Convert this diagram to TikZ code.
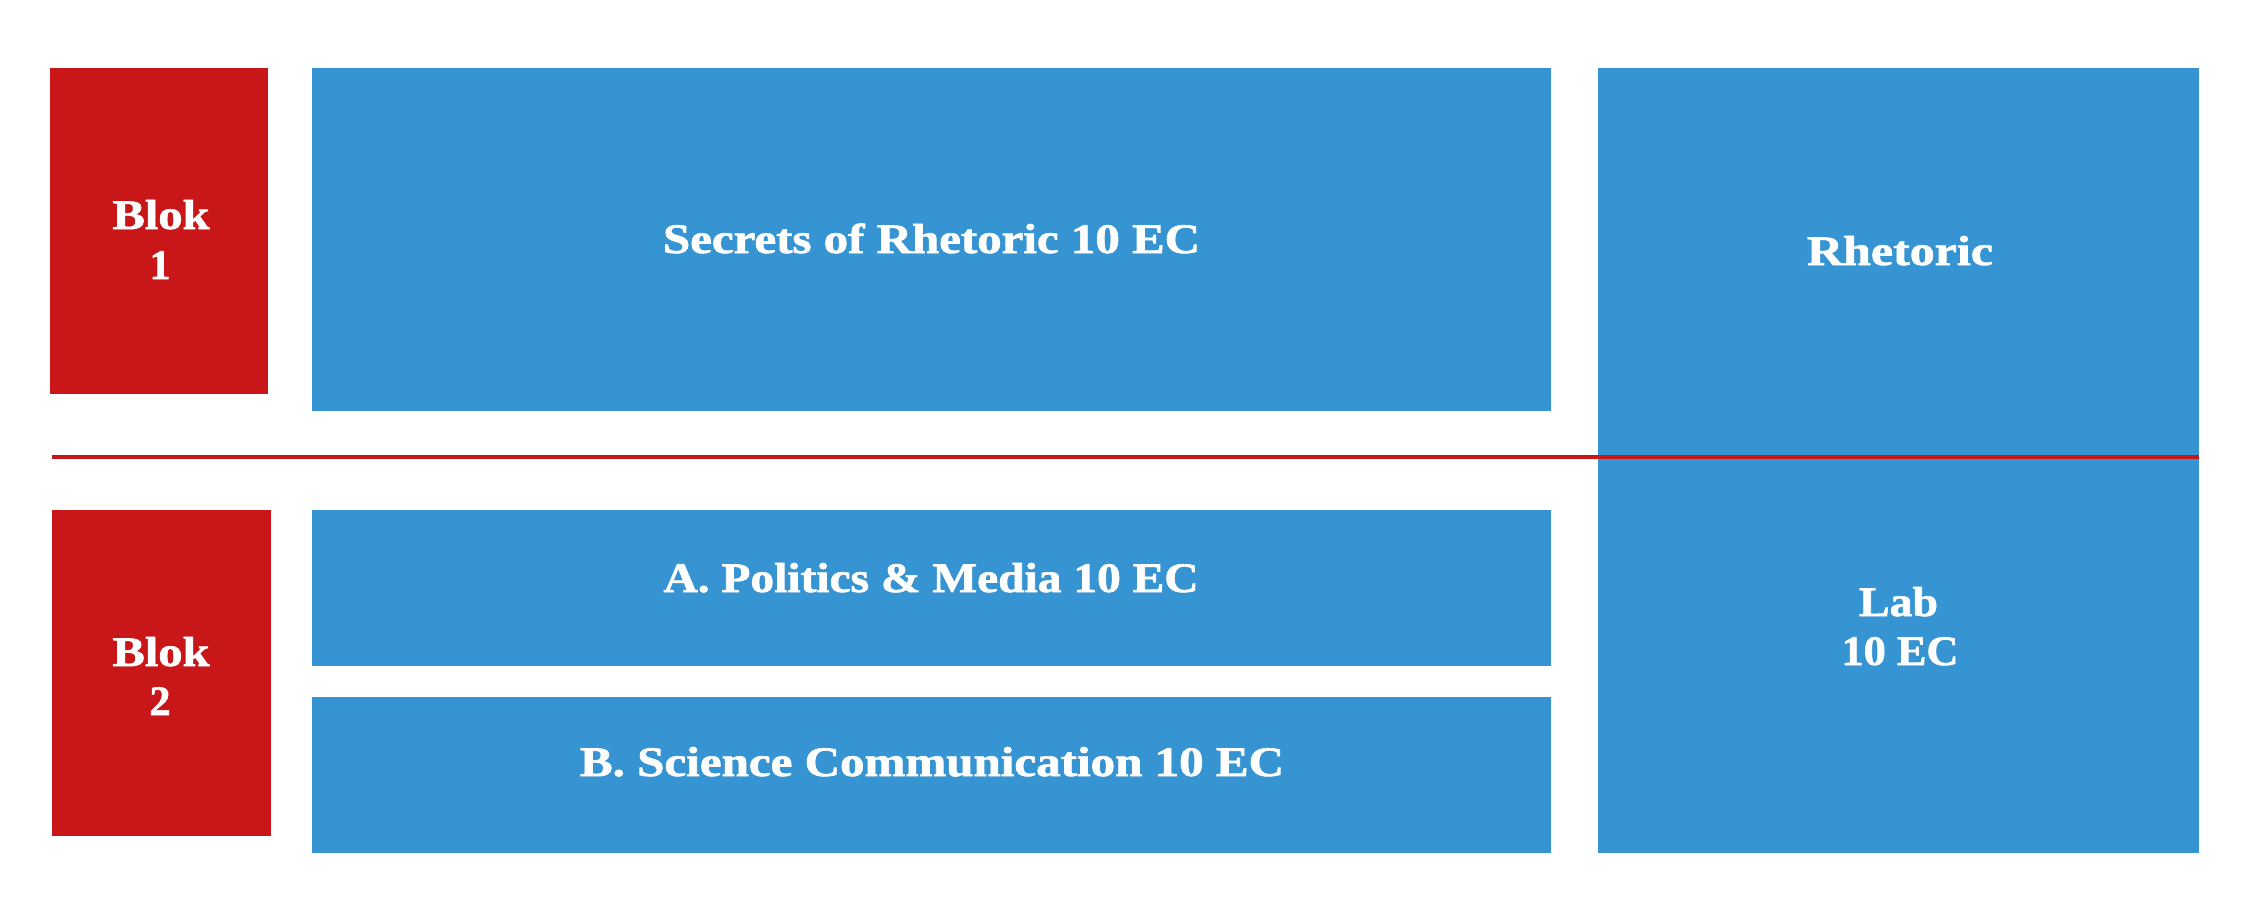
\documentclass[tikz,border=0pt]{standalone}
\usepackage{fontspec}
\setmainfont{Liberation Serif}[BoldFeatures={FakeBold=1.5}]
\usepackage{graphicx}
\definecolor{blokred}{RGB}{200,22,25}
\definecolor{cblue}{RGB}{55,148,210}
\newcommand\fitw[2]{\resizebox{#1pt}{\height}{#2}}
\begin{document}
\begin{tikzpicture}[x=1pt,y=-1pt,
  box/.style={rectangle, fill=cblue, draw=none, inner sep=0pt, outer sep=0pt, anchor=north west},
  blokbox/.style={rectangle, fill=blokred, draw=none, inner sep=0pt, outer sep=0pt, anchor=north west},
  lbl/.style={text=white, font=\fontsize{42}{50}\selectfont\bfseries, inner sep=0pt, anchor=base},
  divider/.style={draw=blokred, line width=3.5pt}]
\useasboundingbox (0,0) rectangle (2249,916);
% boxes
\node[blokbox, minimum width=218pt, minimum height=326pt] (b1) at (50,68) {};
\node[box, minimum width=1239pt, minimum height=343pt] (sec) at (312,68) {};
\node[box, minimum width=601pt, minimum height=785pt] (rhet) at (1598,68) {};
\node[blokbox, minimum width=219pt, minimum height=326pt] (b2) at (52,510) {};
\node[box, minimum width=1239pt, minimum height=156pt] (pa) at (312,510) {};
\node[box, minimum width=1239pt, minimum height=156pt] (pb) at (312,697) {};
% divider line
\coordinate (ls) at (52,457);
\coordinate (le) at (2199,457);
\draw[divider] (ls) -- (le);
% labels
\node[lbl] (t1a) at (161,229) {\fitw{97}{Blok}};
\node[lbl] (t1b) at (160,279) {1};
\node[lbl] (t2a) at (161,666) {\fitw{97}{Blok}};
\node[lbl] (t2b) at (160,715) {2};
\node[lbl] (tsec) at (931.5,253) {\fitw{537}{Secrets of Rhetoric 10 EC}};
\node[lbl] (tpa) at (931,592) {\fitw{535}{A. Politics \& Media 10 EC}};
\node[lbl] (tpb) at (932,776) {\fitw{704}{B. Science Communication 10 EC}};
\node[lbl] (trh) at (1900,265) {\fitw{186}{Rhetoric}};
\node[lbl] (tlab) at (1898.5,616) {\fitw{79}{Lab}};
\node[lbl] (tec) at (1900,665) {\fitw{117}{10 EC}};
\end{tikzpicture}
\end{document}
